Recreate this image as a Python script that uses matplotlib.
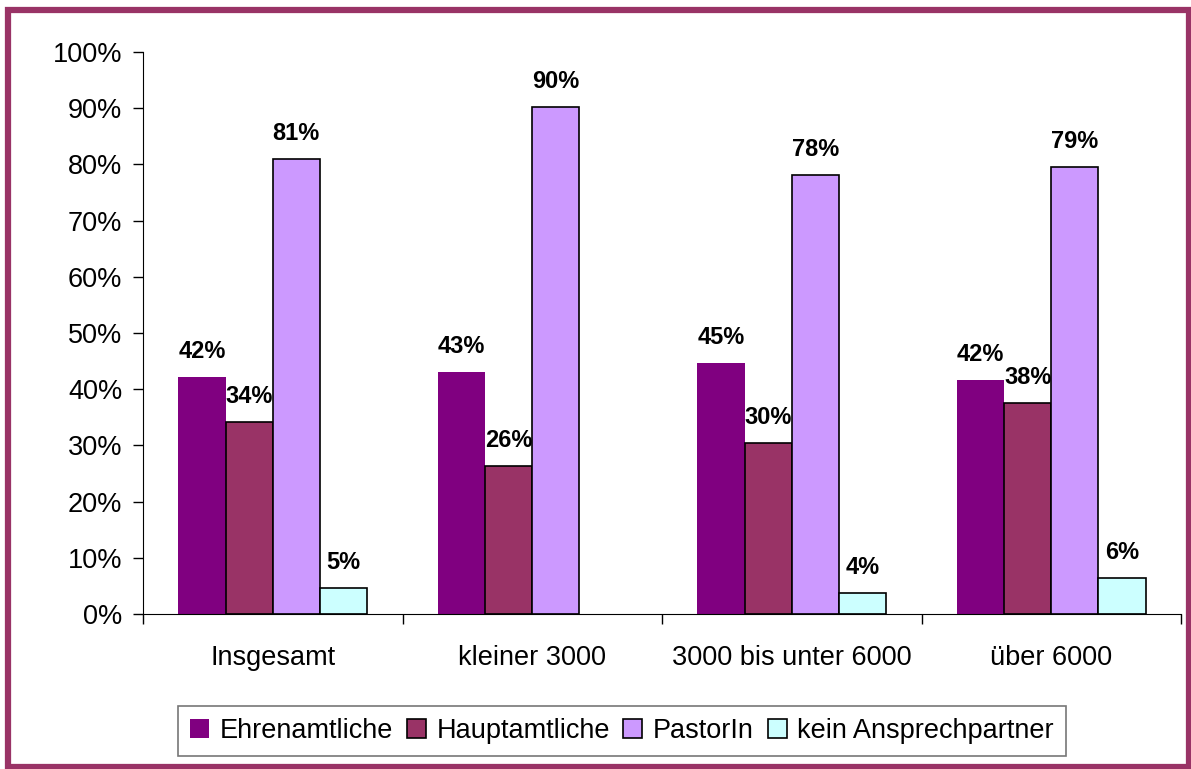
import matplotlib
matplotlib.use("Agg")
import matplotlib.pyplot as plt
from matplotlib.patches import Rectangle
import numpy as np

categories = ["Insgesamt", "kleiner 3000", "3000 bis unter 6000", "über 6000"]
series = ["Ehrenamtliche", "Hauptamtliche", "PastorIn", "kein Ansprechpartner"]
ehrenamtliche = [42.2, 43.0, 44.6, 41.6]
hauptamtliche = [34.2, 26.3, 30.4, 37.6]
pastorin = [80.9, 90.3, 78.1, 79.5]
kein = [4.7, 0.0, 3.7, 6.4]
labels = [["42%", "43%", "45%", "42%"],
          ["34%", "26%", "30%", "38%"],
          ["81%", "90%", "78%", "79%"],
          ["5%", "", "4%", "6%"]]
yticks = [0, 10, 20, 30, 40, 50, 60, 70, 80, 90, 100]
ytick_labels = ["0%", "10%", "20%", "30%", "40%", "50%", "60%", "70%", "80%", "90%", "100%"]

colors = ["#800080", "#993366", "#CC99FF", "#CCFFFF"]
edges = ["none", "black", "black", "black"]

plt.rcParams['font.family'] = ['Liberation Sans', 'DejaVu Sans']

fig = plt.figure(figsize=(11.91, 7.69), dpi=100)
ax = fig.add_axes([143/1191, 1-614/769, (1181-143)/1191, (614-52)/769])

values = [ehrenamtliche, hauptamtliche, pastorin, kein]
n = len(series)
bw = 1/(n + 1.5)
x = np.arange(len(categories))
handles = []
for i, (vals, c, e) in enumerate(zip(values, colors, edges)):
    pos = x - 2*bw + (i + 0.5)*bw
    ecs = [e if v > 0 else "none" for v in vals]
    bars = ax.bar(pos, vals, width=bw, color=c, edgecolor=ecs, linewidth=1.2, label=series[i])
    handles.append(bars)
    for p, v, lab in zip(pos, vals, labels[i]):
        if lab:
            ax.annotate(lab, (p, v), xytext=(0, 10), textcoords="offset points",
                        ha="center", va="bottom", fontsize=17, fontweight="bold")

ax.set_xlim(-0.5, len(categories) - 0.5)
ax.set_ylim(0, 100)
ax.set_yticks(yticks)
ax.set_yticklabels(ytick_labels, fontsize=19.5)
ax.set_xticks(x)
ax.set_xticklabels(categories, fontsize=19.5)
ax.tick_params(axis='x', length=0, pad=22)
ax.set_xticks(np.arange(-0.5, len(categories)), minor=True)
ax.tick_params(axis='x', which='minor', length=7, width=1, direction='out')
ax.tick_params(axis='y', length=7, width=1, direction='out', pad=8)
ax.spines['top'].set_visible(False)
ax.spines['right'].set_visible(False)

leg = fig.legend(handles=handles, labels=series, loc='center', bbox_to_anchor=(622/1191, 1-731/769),
                 ncol=4, fontsize=19.5, frameon=True, fancybox=False, edgecolor='#555555',
                 handlelength=0.7, handleheight=0.7, handletextpad=0.4, columnspacing=0.5,
                 borderpad=0.45, borderaxespad=0)
leg.get_frame().set_linewidth(1.2)

fig.patches.append(Rectangle((8/1191, 2/769), (1189-8)/1191, (759.5-2)/769, transform=fig.transFigure,
                             fill=False, edgecolor="#993366", linewidth=4.5))

fig.savefig("out.png", dpi=100)
